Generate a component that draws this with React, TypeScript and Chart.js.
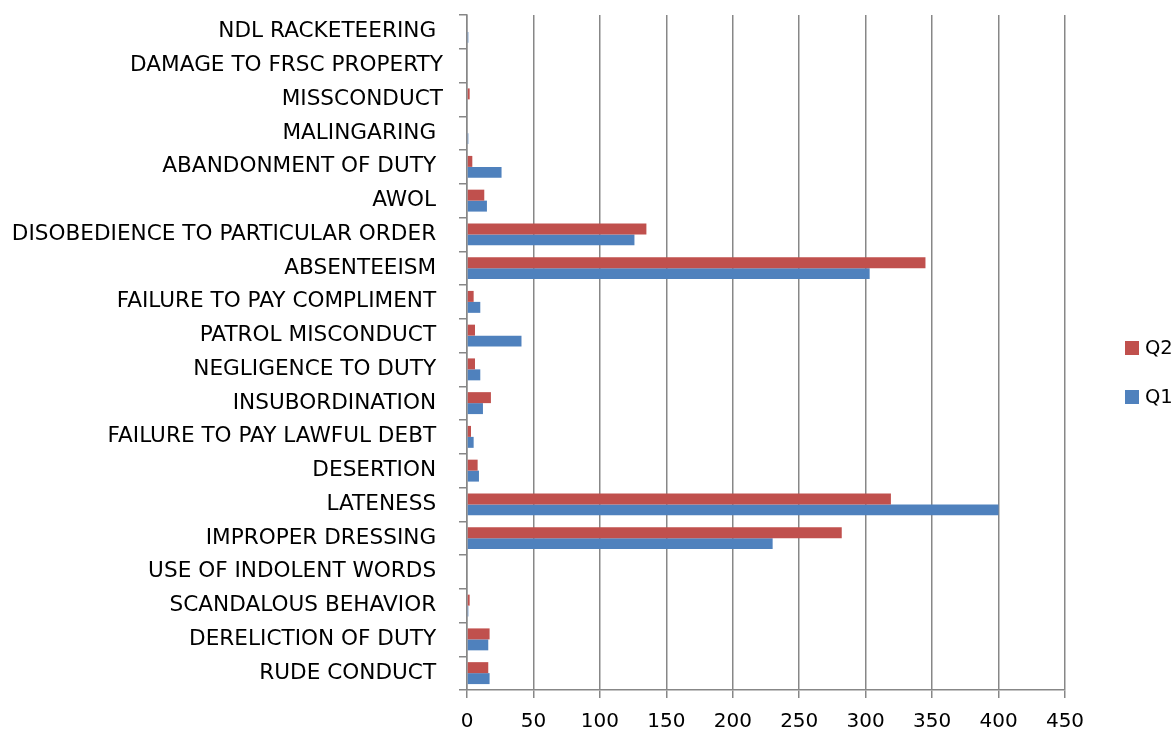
import React, { useEffect, useRef } from "react";
import { Chart, registerables } from "chart.js";

Chart.register(...registerables);

// Categories listed top to bottom as they appear in the chart
const categories = [
  "NDL RACKETEERING ",
  "DAMAGE TO FRSC PROPERTY",
  "MISSCONDUCT",
  "MALINGARING ",
  "ABANDONMENT OF DUTY ",
  "AWOL ",
  "DISOBEDIENCE TO PARTICULAR ORDER ",
  "ABSENTEEISM ",
  "FAILURE TO PAY COMPLIMENT ",
  "PATROL MISCONDUCT ",
  "NEGLIGENCE TO DUTY ",
  "INSUBORDINATION ",
  "FAILURE TO PAY LAWFUL DEBT ",
  "DESERTION ",
  "LATENESS ",
  "IMPROPER DRESSING ",
  "USE OF INDOLENT WORDS ",
  "SCANDALOUS BEHAVIOR ",
  "DERELICTION OF DUTY ",
  "RUDE CONDUCT ",
];

const q2Values = [0, 0, 2, 0, 4, 13, 135, 345, 5, 6, 6, 18, 3, 8, 319, 282, 0, 2, 17, 16];
const q1Values = [1, 0, 0, 1, 26, 15, 126, 303, 10, 41, 10, 12, 5, 9, 400, 230, 0, 1, 16, 17];

const seriesNames = ["Q2", "Q1"];
const seriesColors = ["#C0504D", "#4F81BD"];

const xMin = 0;
const xMax = 450;
const xStep = 50;

const FONT = "'DejaVu Sans', sans-serif";
const GRID = "#878787";

export default function App() {
  const ref = useRef<HTMLCanvasElement | null>(null);

  useEffect(() => {
    if (!ref.current) return;
    const seriesData = [q2Values, q1Values];
    const chart = new Chart(ref.current, {
      type: "bar",
      data: {
        labels: categories,
        datasets: seriesNames.map((name, i) => ({
          label: name,
          data: seriesData[i],
          backgroundColor: seriesColors[i],
          borderWidth: 0,
          categoryPercentage: 0.65,
          barPercentage: 1,
        })),
      },
      options: {
        indexAxis: "y",
        responsive: true,
        maintainAspectRatio: false,
        animation: false,
        layout: { padding: { top: 15, right: 111, left: 0, bottom: 0 } },
        plugins: {
          legend: { display: false },
          tooltip: { enabled: false },
        },
        scales: {
          x: {
            min: xMin,
            max: xMax,
            ticks: {
              stepSize: xStep,
              color: "#000",
              font: { family: FONT, size: 20 },
              padding: 12,
            },
            grid: {
              color: GRID,
              lineWidth: 1.5,
              tickLength: 8,
              drawTicks: true,
              tickColor: GRID,
            },
            border: { color: GRID, width: 1.5 },
            afterFit: (s: any) => {
              s.height = 42;
            },
          },
          y: {
            grid: {
              drawOnChartArea: false,
              offset: true,
              tickLength: 8,
              color: GRID,
              tickColor: GRID,
              lineWidth: 1.5,
            },
            border: { color: GRID, width: 1.5 },
            ticks: {
              color: "#000",
              font: { family: FONT, size: 21.6 },
              padding: 16,
              autoSkip: false,
            },
            afterFit: (s: any) => {
              s.width = 467;
              s.paddingTop = 0;
              s.paddingBottom = 0;
            },
          },
        },
      },
    });
    return () => chart.destroy();
  }, []);

  return (
    <div
      style={{
        position: "fixed",
        left: 0,
        top: 0,
        width: 1176,
        height: 732,
        background: "#fff",
      }}
    >
      <canvas ref={ref} style={{ width: "100%", height: "100%" }} />
      <div
        style={{
          position: "absolute",
          left: 1125,
          top: 323,
          fontFamily: FONT,
          fontSize: 19.5,
          color: "#000",
        }}
      >
        {seriesNames.map((name, i) => (
          <div
            key={name}
            style={{ height: 49, display: "flex", alignItems: "center" }}
          >
            <span
              style={{
                display: "inline-block",
                width: 14,
                height: 14,
                background: seriesColors[i],
                marginRight: 6,
              }}
            />
            <span>{name}</span>
          </div>
        ))}
      </div>
    </div>
  );
}
